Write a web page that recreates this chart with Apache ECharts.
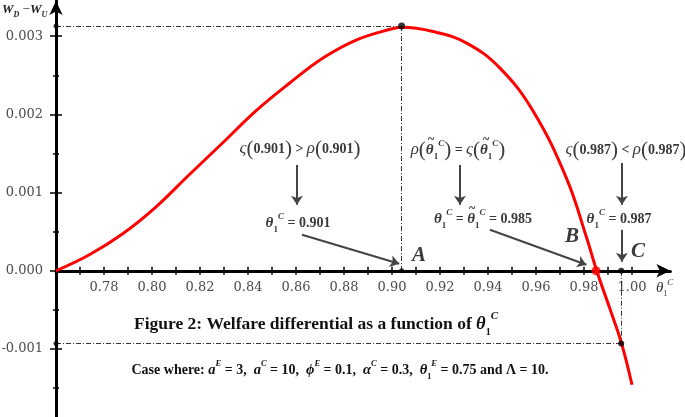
<!DOCTYPE html>
<html><head><meta charset="utf-8">
<script src="https://cdn.jsdelivr.net/npm/echarts@6/dist/echarts.min.js"></script>
<style>html,body{margin:0;padding:0;background:#fff}#c{width:685px;height:417px}</style>
</head><body><div id="c"></div>
<script>
// ---- data ----
const curveX = [0.760, 0.7739, 0.7878, 0.8017, 0.8155, 0.8295, 0.8433, 0.8575, 0.8714, 0.8853, 0.8992, 0.9040, 0.9171, 0.9311, 0.9450, 0.9589, 0.9728, 0.9811, 0.9853, 0.9908, 0.9957, 1.0000];
const curveY = [0.0000, 0.000205, 0.000473, 0.000818, 0.001228, 0.001637, 0.002046, 0.002404, 0.002724, 0.002954, 0.003088, 0.003114, 0.003060, 0.002912, 0.002592, 0.002037, 0.001176, 0.000422, 0.0000, -0.000486, -0.000934, -0.001458];
const yLabelValues = [-0.001, 0, 0.001, 0.002, 0.003];
const yMinorValues = [-0.0015, -0.0005, 0.0005, 0.0015, 0.0025];
const xTickValues = [0.77, 0.78, 0.79, 0.80, 0.81, 0.82, 0.83, 0.84, 0.85, 0.86, 0.87, 0.88, 0.89, 0.90, 0.91, 0.92, 0.93, 0.94, 0.95, 0.96, 0.97, 0.98, 0.99, 1.00];
const xLabelValues = [0.78, 0.80, 0.82, 0.84, 0.86, 0.88, 0.90, 0.92, 0.94, 0.96, 0.98, 1.00];
const peakPoint = [0.904, 0.00313];
const peakAxisY = [0.76, 0.00313];
const pointA = [0.904, 0];
const pointB = [0.985, 0];
const pointC = [0.9955, 0];
const pointCLow = [0.9955, -0.00093];
const lowAxisY = [0.76, -0.00093];
const guideSegments = [
  [peakAxisY, peakPoint],
  [peakPoint, pointA],
  [lowAxisY, pointCLow],
  [pointC, pointCLow]
];
const arrowSegments = [
  [[0.8604, 0.001354], [0.8604, 0.000843]],
  [[0.8625, 0.000460], [0.9030, 0.0000894]],
  [[0.9283, 0.001354], [0.9283, 0.000843]],
  [[0.9408, 0.000524], [0.9810, 0.0000766]],
  [[0.9958, 0.001379], [0.9958, 0.000843]],
  [[0.9958, 0.000524], [0.9958, 0.000115]]
];

const X_MIN = 0.76, X_MAX = 1.016, Y_MIN = -0.00187, Y_MAX = 0.00345;
const SERIF = 'Liberation Serif';
const TICKFONT = 'DejaVu Serif';
const INK = '#3a3a3a';

// layout
const W = 685, H = 417, G_LEFT = 56, G_RIGHT = 14.6, G_TOP = 1, G_BOTTOM = 0;
const plotH = H - G_TOP - G_BOTTOM;
const zeroFromBottom = plotH * (0 - Y_MIN) / (Y_MAX - Y_MIN);
const X_OFFSET = -zeroFromBottom; // lift the x axis up to y = 0

const chart = echarts.init(document.getElementById('c'), null, {renderer: 'canvas'});

function xAxisBase(extra) {
  return Object.assign({
    type: 'value', min: X_MIN, max: X_MAX, position: 'bottom', offset: X_OFFSET, gridIndex: 0,
    splitLine: {show: false}
  }, extra);
}
function yAxisBase(extra) {
  return Object.assign({
    type: 'value', min: Y_MIN, max: Y_MAX, position: 'left', gridIndex: 0,
    splitLine: {show: false}
  }, extra);
}

const rich = {
  n: {fontFamily: SERIF, fontWeight: 'bold', fontSize: 14, fill: INK, lineHeight: 22},
  i: {fontFamily: SERIF, fontWeight: 'bold', fontStyle: 'italic', fontSize: 15, fill: INK, lineHeight: 22},
  g: {fontFamily: SERIF, fontStyle: 'italic', fontSize: 17, fill: INK, lineHeight: 22},
  p: {fontFamily: SERIF, fontSize: 21, fill: INK, lineHeight: 22},
  sb: {fontFamily: SERIF, fontWeight: 'bold', fontSize: 9, fill: INK, lineHeight: 13, verticalAlign: 'bottom'},
  sp: {fontFamily: SERIF, fontWeight: 'bold', fontStyle: 'italic', fontSize: 9, fill: INK, lineHeight: 13, verticalAlign: 'top'},
  L: {fontFamily: SERIF, fontWeight: 'bold', fontStyle: 'italic', fontSize: 21, fill: INK, lineHeight: 24},
  t: {fontFamily: SERIF, fontWeight: 'bold', fontSize: 12, fill: INK, lineHeight: 12}
};
const capRich = {
  b: {fontFamily: SERIF, fontWeight: 'bold', fontSize: 17.5, fill: '#111', lineHeight: 26},
  i: {fontFamily: SERIF, fontWeight: 'bold', fontStyle: 'italic', fontSize: 18.5, fill: '#111', lineHeight: 26},
  sb: {fontFamily: SERIF, fontWeight: 'bold', fontSize: 10, fill: '#111', lineHeight: 15, verticalAlign: 'bottom'},
  sp: {fontFamily: SERIF, fontWeight: 'bold', fontStyle: 'italic', fontSize: 11, fill: '#111', lineHeight: 15, verticalAlign: 'top'}
};
const caseRich = {
  b: {fontFamily: SERIF, fontWeight: 'bold', fontSize: 14, fill: '#111', lineHeight: 22},
  i: {fontFamily: SERIF, fontWeight: 'bold', fontStyle: 'italic', fontSize: 14.5, fill: '#111', lineHeight: 22},
  sb: {fontFamily: SERIF, fontWeight: 'bold', fontSize: 8, fill: '#111', lineHeight: 13, verticalAlign: 'bottom'},
  sp: {fontFamily: SERIF, fontWeight: 'bold', fontStyle: 'italic', fontSize: 8.5, fill: '#111', lineHeight: 13, verticalAlign: 'top'}
};
const axRich = {
  w: {fontFamily: SERIF, fontWeight: 'bold', fontStyle: 'italic', fontSize: 13, fill: '#222', lineHeight: 18},
  s: {fontFamily: SERIF, fontWeight: 'bold', fontStyle: 'italic', fontSize: 8, fill: '#222', lineHeight: 12, verticalAlign: 'bottom'},
  m: {fontFamily: SERIF, fontSize: 13, fill: '#222', lineHeight: 18},
  t: {fontFamily: SERIF, fontStyle: 'italic', fontSize: 15, fill: '#333', lineHeight: 20},
  sb: {fontFamily: SERIF, fontSize: 8, fill: '#333', lineHeight: 12, verticalAlign: 'bottom'},
  sp: {fontFamily: SERIF, fontStyle: 'italic', fontSize: 9, fill: '#333', lineHeight: 12, verticalAlign: 'top'}
};

function txt(x, y, text, r, align) {
  return {type: 'text', x: x, y: y, silent: true, z: 20,
    style: {text: text, rich: r, align: align || 'center', verticalAlign: 'middle'}};
}

const option = {
  animation: false,
  backgroundColor: '#ffffff',
  grid: {left: G_LEFT, right: G_RIGHT, top: G_TOP, bottom: G_BOTTOM, containLabel: false, outerBoundsMode: 'none'},
  xAxis: [
    xAxisBase({
      axisLine: {show: true, onZero: false, lineStyle: {color: '#000', width: 3}, symbol: ['none', 'arrow'], symbolSize: [10, 14]},
      axisTick: {show: true, inside: false, length: 4, customValues: xTickValues, lineStyle: {color: '#000', width: 1.5}},
      axisLabel: {show: true, customValues: xLabelValues, margin: 10, fontFamily: TICKFONT, fontSize: 13, color: '#4a4a4a',
        formatter: v => Number(v).toFixed(2)}
    }),
    xAxisBase({
      axisLine: {show: false, onZero: false},
      axisTick: {show: true, inside: true, length: 4, customValues: xTickValues, lineStyle: {color: '#000', width: 1.5}},
      axisLabel: {show: false}
    })
  ],
  yAxis: [
    yAxisBase({
      axisLine: {show: true, onZero: false, lineStyle: {color: '#000', width: 3}, symbol: ['none', 'arrow'], symbolSize: [10, 14]},
      axisTick: {show: true, inside: false, length: 6, customValues: yLabelValues, lineStyle: {color: '#000', width: 1.5}},
      axisLabel: {show: true, customValues: yLabelValues, margin: 13, fontFamily: TICKFONT, fontSize: 13, color: '#4a4a4a',
        formatter: v => Number(v).toFixed(3)}
    }),
    yAxisBase({
      axisLine: {show: false, onZero: false},
      axisTick: {show: true, inside: true, length: 6, customValues: yLabelValues, lineStyle: {color: '#000', width: 1.5}},
      axisLabel: {show: false}
    }),
    yAxisBase({
      axisLine: {show: false, onZero: false},
      axisTick: {show: true, inside: false, length: 3, customValues: yMinorValues, lineStyle: {color: '#000', width: 1.5}},
      axisLabel: {show: false}
    }),
    yAxisBase({
      axisLine: {show: false, onZero: false},
      axisTick: {show: true, inside: true, length: 3, customValues: yMinorValues, lineStyle: {color: '#000', width: 1.5}},
      axisLabel: {show: false}
    })
  ],
  series: [
    {
      type: 'lines', coordinateSystem: 'cartesian2d', xAxisIndex: 0, yAxisIndex: 0, silent: true, z: 2,
      symbol: 'none',
      lineStyle: {color: '#333', width: 1, type: [5, 2, 1, 2], opacity: 1, curveness: 0},
      data: guideSegments.map(s => ({coords: s}))
    },
    {
      type: 'line', xAxisIndex: 0, yAxisIndex: 0, silent: true, z: 3,
      smooth: 0.4, symbol: 'none',
      lineStyle: {color: '#ff0000', width: 3},
      data: curveX.map((x, k) => [x, curveY[k]])
    },
    {
      type: 'lines', coordinateSystem: 'cartesian2d', xAxisIndex: 0, yAxisIndex: 0, silent: true, z: 4,
      symbol: ['none', 'arrow'], symbolSize: 9,
      lineStyle: {color: '#444', width: 2, opacity: 1, curveness: 0},
      data: arrowSegments.map(s => ({coords: s}))
    },
    {
      type: 'scatter', xAxisIndex: 0, yAxisIndex: 0, silent: true, z: 6,
      symbol: 'circle',
      itemStyle: {color: '#000'},
      data: [
        {value: peakPoint, symbolSize: 7},
        {value: peakAxisY, symbolSize: 5},
        {value: pointA, symbolSize: 5},
        {value: pointC, symbolSize: 6},
        {value: pointCLow, symbolSize: 6},
        {value: lowAxisY, symbolSize: 5}
      ]
    },
    {
      type: 'scatter', xAxisIndex: 0, yAxisIndex: 0, silent: true, z: 7,
      symbol: 'circle', symbolSize: 9,
      itemStyle: {color: '#ff0000'},
      data: [pointB]
    }
  ],
  graphic: [
    txt(2, 10, '{w|W}{s|D}{m| \u2212}{w|W}{s|U}', axRich, 'left'),
    txt(656, 288, '{t|\u03B8}{sb|1}{sp|C}', axRich, 'left'),
    txt(300, 149, '{g|\u03C2}{p|(}{n|0.901}{p|)}{n| > }{g|\u03C1}{p|(}{n|0.901}{p|)}', rich),
    txt(298, 223, '{i|\u03B8}{sb|1}{sp|C}{n| = 0.901}', rich),
    txt(458, 150, '{g|\u03C1}{p|(}{i|\u03B8}{sb|1}{sp|C}{p|)}{n| = }{g|\u03C2}{p|(}{i|\u03B8}{sb|1}{sp|C}{p|)}', rich),
    txt(431, 140, '{t|~}', rich),
    txt(486, 140, '{t|~}', rich),
    txt(483, 219, '{i|\u03B8}{sb|1}{sp|C}{n| = }{i|\u03B8}{sb|1}{sp|C}{n| = 0.985}', rich),
    txt(472, 209, '{t|~}', rich),
    txt(626, 150, '{g|\u03C2}{p|(}{n|0.987}{p|)}{n| < }{g|\u03C1}{p|(}{n|0.987}{p|)}', rich),
    txt(619, 219, '{i|\u03B8}{sb|1}{sp|C}{n| = 0.987}', rich),
    txt(419, 256, '{L|A}', rich),
    txt(572, 237, '{L|B}', rich),
    txt(638, 252, '{L|C}', rich),
    txt(316, 324, '{b|Figure 2: Welfare differential as a function of }{i|\u03B8}{sb|1}{sp|C}', capRich),
    txt(340, 370, '{b|Case where: }{i|a}{sp|E}{b| = 3,  }{i|a}{sp|C}{b| = 10,  }{i|\u03D5}{sp|E}{b| = 0.1,  }{i|\u03B1}{sp|C}{b| = 0.3,  }{i|\u03B8}{sb|1}{sp|E}{b| = 0.75 and \u039B = 10.}', caseRich)
  ]
};
chart.setOption(option);
</script></body></html>
